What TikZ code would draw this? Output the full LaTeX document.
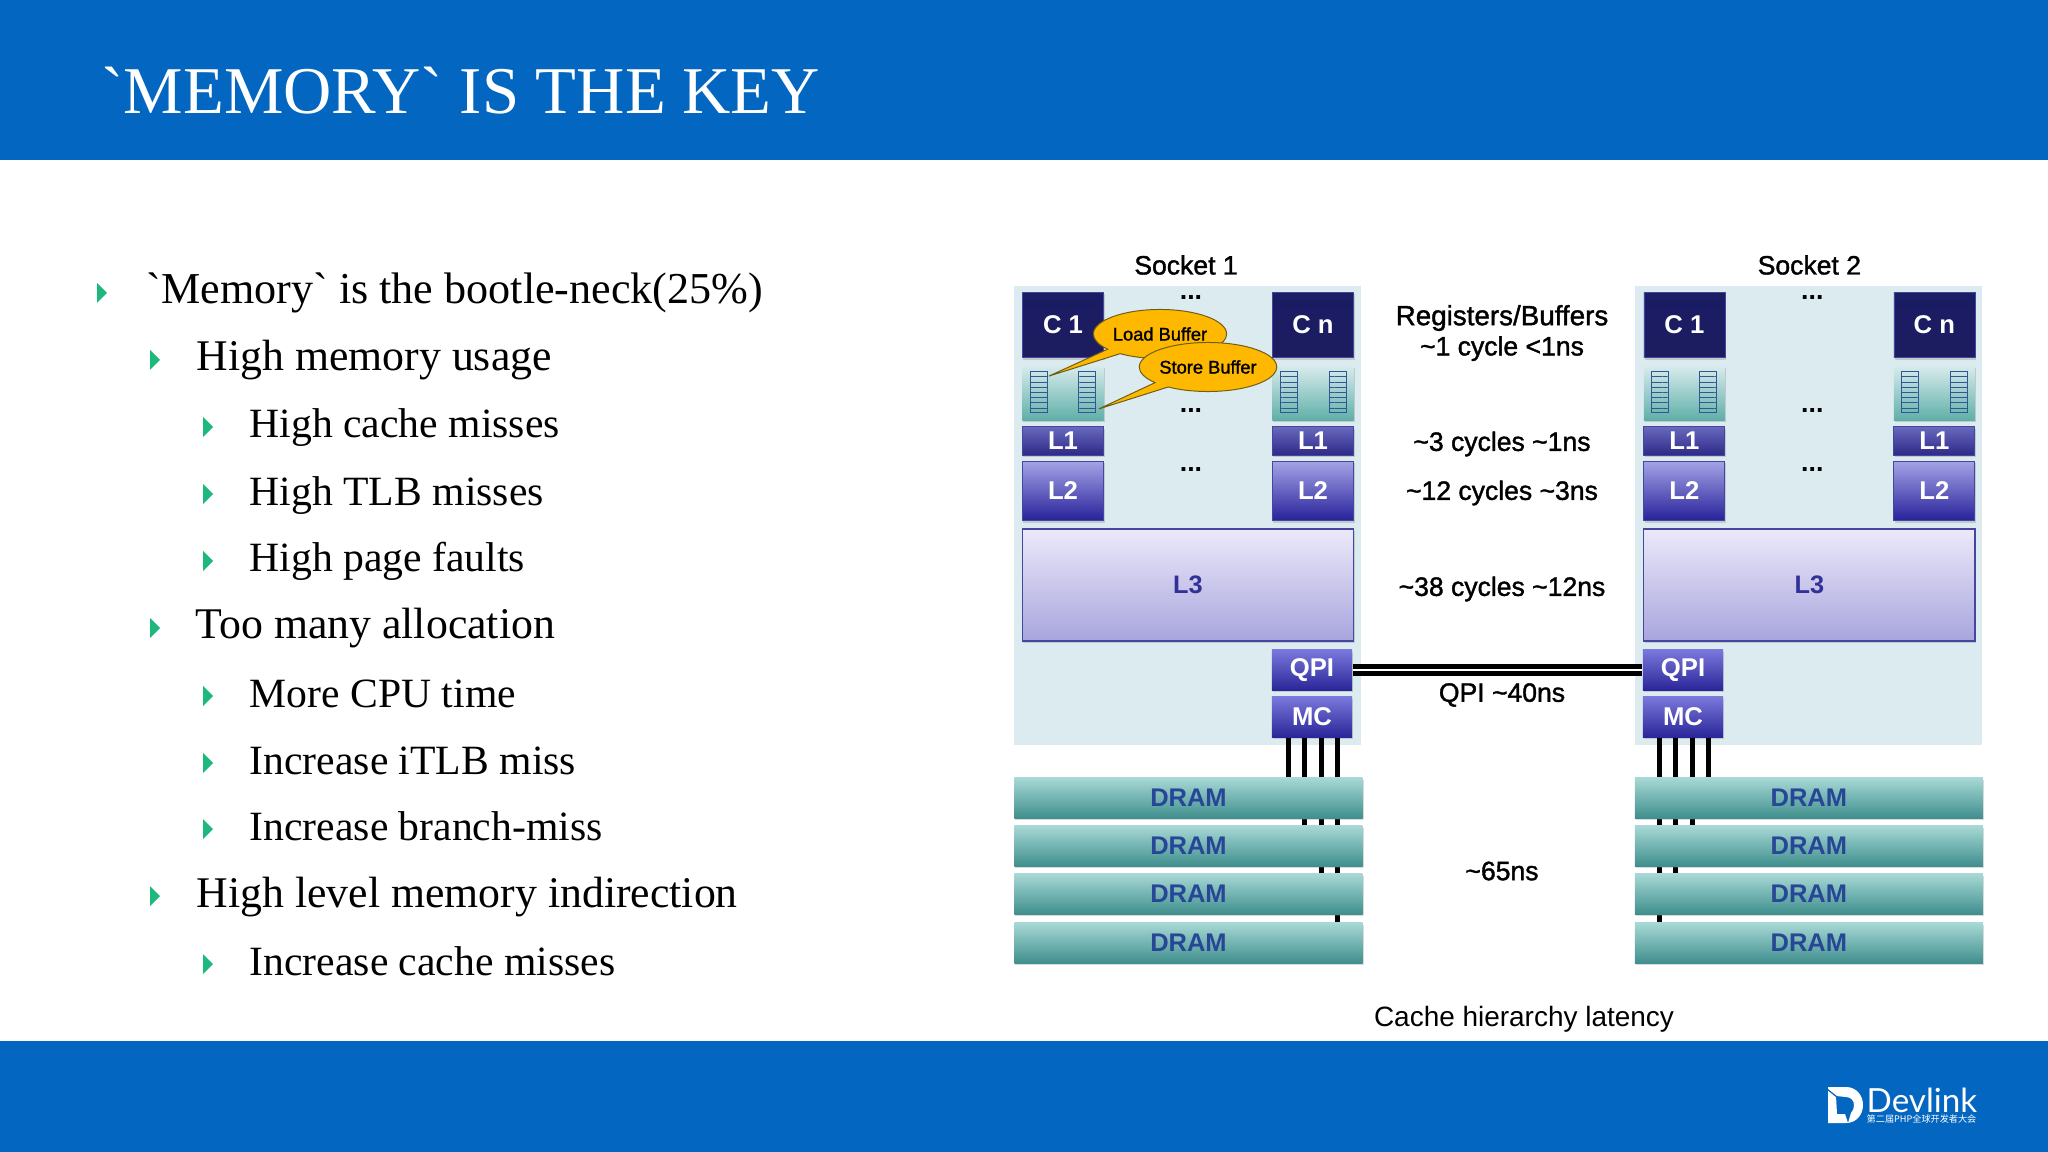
\documentclass[tikz,border=0pt]{standalone}
\usepackage{fontspec}
\usetikzlibrary{calc,shadows,shapes.callouts,patterns.meta}
\setmainfont[Ligatures=TeXOff]{Liberation Serif}
\setsansfont{Liberation Sans}
\newfontfamily\labelfont[FakeBold=1.4]{Liberation Sans}
\newfontfamily\logofont{Lato}
\newfontfamily\cjkfont{Noto Sans CJK SC}

\definecolor{bandblue}{RGB}{3,102,192}
\definecolor{socketbg}{RGB}{220,235,239}
\definecolor{bulletgreen}{RGB}{28,184,124}
\definecolor{chipedge}{RGB}{70,70,160}
\definecolor{chiptext}{RGB}{50,50,150}
\definecolor{dramtext}{RGB}{40,70,150}
\definecolor{bubblefill}{RGB}{255,184,0}
\definecolor{bubbleedge}{RGB}{110,95,20}
\definecolor{coretop}{RGB}{26,28,100}
\definecolor{coremid}{RGB}{42,42,128}
\definecolor{corelow}{RGB}{28,28,96}
\definecolor{onetop}{RGB}{104,104,190}
\definecolor{onelow}{RGB}{46,42,136}
\definecolor{twotop}{RGB}{164,162,230}
\definecolor{twolow}{RGB}{39,34,154}
\definecolor{threetop}{RGB}{236,233,250}
\definecolor{threelow}{RGB}{168,165,222}
\definecolor{linktop}{RGB}{122,120,220}
\definecolor{linklow}{RGB}{42,38,153}
\definecolor{dramtop}{RGB}{167,216,213}
\definecolor{drammid}{RGB}{127,196,194}
\definecolor{dramlow}{RGB}{63,143,142}
\definecolor{paneltop}{RGB}{216,235,236}
\definecolor{panellow}{RGB}{95,175,168}
\definecolor{stackline}{RGB}{50,85,150}

\tikzset{
  band/.style={fill=bandblue},
  itemtop/.style={anchor=base west, inner sep=0, font=\fontsize{12.55}{14}\selectfont},
  itemmid/.style={anchor=base west, inner sep=0, font=\fontsize{12.45}{14}\selectfont},
  itemlow/.style={anchor=base west, inner sep=0, font=\fontsize{11.85}{14}\selectfont},
  slabel/.style={inner sep=0, align=center, font=\labelfont\fontsize{7.55}{8.6}\selectfont},
  dots/.style={inner sep=0, font=\sffamily\bfseries\fontsize{7.6}{9}\selectfont},
  soft/.style={drop shadow={shadow xshift=.01cm, shadow yshift=-.02cm, opacity=.3}},
  chip/.style={soft, inner sep=0, text=white, font=\sffamily\bfseries\fontsize{7.3}{9}\selectfont},
  corebox/.style={chip, draw=chipedge, line width=.005cm, top color=coretop,
    middle color=coremid, bottom color=corelow, minimum width=.81cm, minimum height=.65cm},
  levelone/.style={chip, draw=chipedge, line width=.01cm, top color=onetop,
    bottom color=onelow, minimum width=.81cm, minimum height=.28cm},
  leveltwo/.style={chip, draw=chipedge, line width=.01cm, top color=twotop,
    bottom color=twolow, minimum width=.81cm, minimum height=.59cm},
  levelthree/.style={soft, inner sep=0, draw=chipedge, line width=.012cm, text=chiptext,
    top color=threetop, bottom color=threelow, minimum width=3.31cm, minimum height=1.12cm,
    font=\sffamily\bfseries\fontsize{7.2}{9}\selectfont},
  linkbox/.style={chip, top color=linktop, bottom color=linklow,
    minimum width=.80cm, minimum height=.40cm},
  dramrow/.style={soft, inner sep=0, text=dramtext, top color=dramtop, middle color=drammid,
    bottom color=dramlow, minimum width=3.48cm, minimum height=.40cm,
    font=\sffamily\bfseries\fontsize{7.25}{9}\selectfont},
  panel/.style={soft, inner sep=0, top color=paneltop, bottom color=panellow,
    minimum width=.81cm, minimum height=.54cm},
  stackbar/.style={draw=stackline, line width=.008cm, inner sep=0, minimum width=.17cm, minimum height=.41cm,
    pattern={Lines[angle=0, distance=.052cm, line width=.008cm]}, pattern color=stackline},
  bubble/.style={ellipse callout, draw=bubbleedge, fill=bubblefill, line width=.01cm, inner sep=0,
    minimum width=1.28cm, minimum height=.49cm, font=\labelfont\fontsize{5.2}{6}\selectfont},
  busline/.style={line width=.05cm},
  qpilink/.style={line width=.05cm, double=white, double distance=.02cm}
}

% one bullet line: style, name, x of bullet, x of text, y of baseline; the text is read last
\newcommand{\bulletitem}[6]{
  \node [#1] (#2) at (#4, #5) {#6};
  \fill [bulletgreen] (#3, #5 - 21) -- (#3 + 10, #5 - 11) -- (#3, #5 - 1) -- cycle;
}

% the parts both sockets have, #1 is the suffix of the names
\newcommand{\socketparts}[1]{
  \fill [socketbg] (1014, 286) rectangle (1361, 745);

  \node [panel] (pa#1) at (1063, 393) {};
  \node [panel] (pb#1) at (1313, 393) {};
  \node [stackbar] (sa#1) at (1039, 392) {};
  \node [stackbar] (sb#1) at (1087, 392) {};
  \node [stackbar] (sc#1) at (1289, 392) {};
  \node [stackbar] (sd#1) at (1338, 392) {};

  \node [corebox] (ca#1) at (1063, 325) {C 1};
  \node [corebox] (cb#1) at (1313, 325) {C n};
  \node [levelone] (la#1) at (1063, 441) {L1};
  \node [levelone] (lb#1) at (1313, 441) {L1};
  \node [leveltwo] (ma#1) at (1063, 491) {L2};
  \node [leveltwo] (mb#1) at (1313, 491) {L2};
  \node [levelthree] (lc#1) at (1188, 585) {L3};

  \node [dots] (dta#1) at (1191, 298) {...};
  \node [dots] (dtb#1) at (1191, 411) {...};
  \node [dots] (dtc#1) at (1191, 470) {...};
}

% the four rows under a socket
\newcommand{\dramparts}[1]{
  \node [dramrow] (da#1) at (1188.5, 798) {DRAM};
  \node [dramrow] (db#1) at (1188.5, 846) {DRAM};
  \node [dramrow] (dc#1) at (1188.5, 894) {DRAM};
  \node [dramrow] (dd#1) at (1188.5, 943) {DRAM};
}

% one bus wire: name of the tap, fraction along the MC, MC node, top of the row
\newcommand{\buswire}[4]{
  \coordinate (#1) at ($(#3.south west)!#2!(#3.south east)$);
  \draw [busline] (#1) -- (#1 |- #4);
}

\begin{document}
\begin{tikzpicture}[x=.01cm, y=-.01cm]
   \useasboundingbox (0, 0) rectangle (2048, 1152);

   % bands
   \fill [band] (0, 0) rectangle (2048, 160);
   \fill [band] (0, 1041) rectangle (2048, 1152);
   \node [anchor=base west, inner sep=0, text=white, font=\fontsize{19}{22}\selectfont] (title) at (101, 114) {`MEMORY` IS THE KEY};

   % left column
   \bulletitem{itemtop}{memory}{97}{146}{304}{`Memory` is the bootle-neck(25\%)}
   \bulletitem{itemmid}{usage}{150}{196}{371}{High memory usage}
   \bulletitem{itemlow}{cachemiss}{203}{249}{438}{High cache misses}
   \bulletitem{itemlow}{tlbmiss}{203}{249}{505}{High TLB misses}
   \bulletitem{itemlow}{pagefault}{203}{249}{572}{High page faults}
   \bulletitem{itemmid}{alloc}{150}{195}{639}{Too many allocation}
   \bulletitem{itemlow}{cputime}{203}{249}{707}{More CPU time}
   \bulletitem{itemlow}{itlb}{203}{249}{774}{Increase iTLB miss}
   \bulletitem{itemlow}{branch}{203}{249}{840}{Increase branch-miss}
   \bulletitem{itemmid}{indirect}{150}{196}{907}{High level memory indirection}
   \bulletitem{itemlow}{cacheinc}{203}{249}{975}{Increase cache misses}

   % socket 1
   \socketparts{A}
   \node [slabel] (socketA) at (1186, 265) {Socket 1};
   \node [linkbox] (qpiA) at (1312, 670) {QPI};
   \node [linkbox] (mcA) at (1312, 717) {MC};

   % socket 2
   \begin{scope}[xshift=6.21cm]
     \socketparts{B}
     \node [slabel] (socketB) at (1188, 265) {Socket 2};
   \end{scope}
   \node [linkbox] (qpiB) at (1683, 670) {QPI};
   \node [linkbox] (mcB) at (1683, 717) {MC};

   % wires first, the rows lie over them
   \coordinate (rowa) at (0, 778);
   \coordinate (rowb) at (0, 826);
   \coordinate (rowc) at (0, 874);
   \coordinate (rowd) at (0, 923);
   \buswire{tapAa}{.2125}{mcA}{rowa}
   \buswire{tapAb}{.4125}{mcA}{rowb}
   \buswire{tapAc}{.6125}{mcA}{rowc}
   \buswire{tapAd}{.8125}{mcA}{rowd}
   \buswire{tapBa}{.2125}{mcB}{rowd}
   \buswire{tapBb}{.4125}{mcB}{rowc}
   \buswire{tapBc}{.6125}{mcB}{rowb}
   \buswire{tapBd}{.8125}{mcB}{rowa}
   \dramparts{A}
   \begin{scope}[xshift=6.2cm]
     \dramparts{B}
   \end{scope}

   \draw [qpilink] (qpiA) -- (qpiB);

   % buffers
   \node [bubble, callout absolute pointer={($(saA.north east)+(.01cm, -.05cm)$)}] (loadbuf) at (1160, 334) {Load Buffer};
   \node [bubble, callout absolute pointer={($(sbA.south east)+(.03cm, .04cm)$)}] (storebuf) at (1208, 367) {Store Buffer};

   % latencies
   \node [slabel] (regs) at (1502, 333) {{\fontsize{7.9}{8.6}\selectfont Registers/Buffers}\\\textasciitilde 1 cycle <1ns};
   \node [slabel] (lata) at (1502, 444) {\textasciitilde 3 cycles \textasciitilde 1ns};
   \node [slabel] (latb) at (1502, 493) {\textasciitilde 12 cycles \textasciitilde 3ns};
   \node [slabel] (latc) at (1502, 589) {\textasciitilde 38 cycles \textasciitilde 12ns};
   \node [slabel] (latd) at (1502, 695) {QPI \textasciitilde 40ns};
   \node [slabel] (late) at (1502, 871) {\textasciitilde 65ns};
   \node [inner sep=0, font=\sffamily\fontsize{7.95}{10}\selectfont] (caption) at (1524, 1019) {Cache hierarchy latency};

   % logo
   \fill [white, even odd rule] (1828, 1087) -- (1846, 1087) .. controls (1856, 1087) and (1863, 1095) .. (1863, 1105)
     .. controls (1863, 1115) and (1856, 1123) .. (1846, 1123) -- (1828, 1123) -- cycle
     (1836, 1096) -- (1846, 1097) .. controls (1851, 1097) and (1854, 1101) .. (1854, 1105)
     .. controls (1854, 1108) and (1853, 1111) .. (1851, 1113) -- (1848, 1123) -- (1845, 1114) -- (1837, 1114) -- cycle;
   \draw [bandblue, line width=.012cm] (1827, 1089) -- (1837, 1097);
   \node [anchor=base west, inner sep=0, text=white, font=\logofont\fontsize{9.45}{12}\selectfont] (devlink) at (1866, 1112) {Devlink};
   \node [anchor=base west, inner sep=0, text=white, font=\cjkfont\fontsize{2.6}{3}\selectfont] (devsub) at (1866, 1122) {第二届PHP全球开发者大会};
\end{tikzpicture}
\end{document}
